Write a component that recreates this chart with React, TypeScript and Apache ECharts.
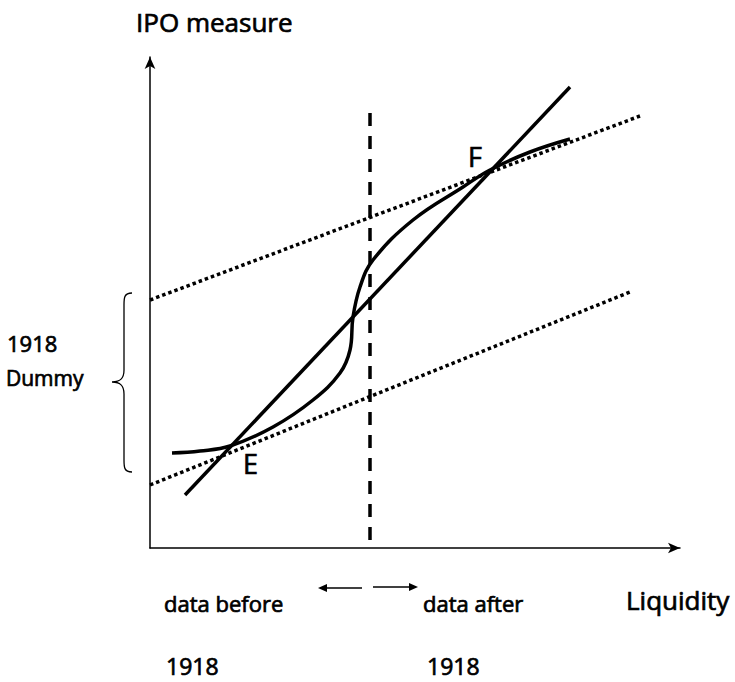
import React, { useEffect, useRef } from "react";
import * as echarts from "echarts";

// Diagram data (x = liquidity units, y = IPO measure units)
const lineX = [35, 420];
const lineY = [53, 461];
const upperDotX = [0, 490];
const upperDotY = [248, 432];
const lowerDotX = [0, 480];
const lowerDotY = [63, 256];
const dashX = [220, 220];
const dashY = [8, 443];
const curveX = [22, 50, 80, 123, 163, 190, 200, 203, 210, 223, 263, 313, 340, 380, 420];
const curveY = [95, 97, 102, 121, 148, 175, 198, 231, 261, 288, 328, 361, 378, 396, 409];

const pts = (xs: number[], ys: number[]) => xs.map((x, i) => [x, ys[i]]);

const FONT = "'Open Sans', 'Noto Sans', sans-serif";

const BRACE_D =
  "M132,293 C124,293 124,298 124,305 L124,370 C124,378 121,382 112,382 C121,382 124,386 124,394 L124,460 C124,467 124,472 132,472";

let registered = false;

export default function App() {
  const ref = useRef<HTMLDivElement>(null);
  useEffect(() => {
    if (!registered) {
      echarts.graphic.registerShape("brace", echarts.graphic.extendPath(BRACE_D, {}) as any);
      echarts.graphic.registerShape(
        "arrowpair",
        echarts.graphic.extendPath("M318,588 L327,584 L327,592 Z M418,587 L409,583 L409,591 Z", {}) as any
      );
      registered = true;
    }
    const chart = echarts.init(ref.current!, undefined, { renderer: "svg" });
    const text = (t: string, x: number, y: number, size: number) => ({
      type: "text",
      x,
      y,
      style: {
        text: t,
        font: `${size}px ${FONT}`,
        fill: "#000",
        stroke: "#000",
        lineWidth: 0.7,
        textAlign: "left",
        textVerticalAlign: "middle",
      },
    });
    chart.setOption({
      animation: false,
      backgroundColor: "#fff",
      grid: { left: 150, top: 57, width: 530, height: 491 },
      xAxis: {
        type: "value",
        min: 0,
        max: 530,
        axisLine: {
          show: true,
          symbol: ["none", "arrow"],
          symbolSize: [8, 12],
          lineStyle: { color: "#000", width: 1.5 },
        },
        axisTick: { show: false },
        axisLabel: { show: false },
        splitLine: { show: false },
      },
      yAxis: {
        type: "value",
        min: 0,
        max: 491,
        axisLine: {
          show: true,
          symbol: ["none", "arrow"],
          symbolSize: [8, 12],
          lineStyle: { color: "#000", width: 1.5 },
        },
        axisTick: { show: false },
        axisLabel: { show: false },
        splitLine: { show: false },
      },
      series: [
        {
          type: "line",
          data: pts(upperDotX, upperDotY),
          symbol: "none",
          lineStyle: { color: "#000", width: 3.5, type: [3.5, 3], cap: "butt" },
        },
        {
          type: "line",
          data: pts(lowerDotX, lowerDotY),
          symbol: "none",
          lineStyle: { color: "#000", width: 3.5, type: [3.5, 3], cap: "butt" },
        },
        {
          type: "line",
          data: pts(dashX, dashY),
          symbol: "none",
          lineStyle: { color: "#000", width: 3.5, type: [13, 10], cap: "butt" },
        },
        {
          type: "line",
          data: pts(lineX, lineY),
          symbol: "none",
          lineStyle: { color: "#000", width: 3.5 },
        },
        {
          type: "line",
          data: pts(curveX, curveY),
          smooth: 0.4,
          symbol: "none",
          lineStyle: { color: "#000", width: 3.5 },
        },
      ],
      graphic: [
        text("IPO measure", 136, 22, 26),
        text("Liquidity", 626, 600, 26),
        text("data before", 164, 603, 22),
        text("data after", 423, 603, 22),
        text("1918", 166, 666, 23),
        text("1918", 427, 666, 23),
        text("1918", 7, 343, 22),
        text("Dummy", 6, 378, 21),
        text("E", 243, 463, 27),
        text("F", 468, 156, 27),
        {
          type: "brace",
          x: 0,
          y: 0,
          style: { stroke: "#000", fill: "none", lineWidth: 1.3 },
        },
        { type: "line", shape: { x1: 325, y1: 588, x2: 362, y2: 588 }, style: { stroke: "#000", lineWidth: 1.5 } },
        { type: "line", shape: { x1: 373, y1: 587, x2: 411, y2: 587 }, style: { stroke: "#000", lineWidth: 1.5 } },
        { type: "arrowpair", x: 0, y: 0, style: { fill: "#000", stroke: "none" } },
      ],
    });
    return () => chart.dispose();
  }, []);
  return (
    <div
      ref={ref}
      style={{ position: "fixed", left: 0, top: 0, width: 735, height: 682 }}
    />
  );
}
